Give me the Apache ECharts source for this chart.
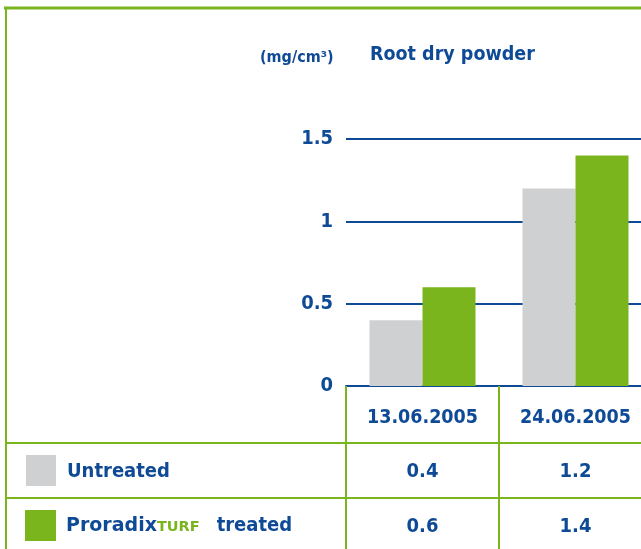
<!DOCTYPE html>
<html>
<head>
<meta charset="utf-8">
<script src="https://cdn.jsdelivr.net/npm/echarts@6/dist/echarts.min.js"></script>
<style>
html,body{margin:0;padding:0;background:#fff;overflow:hidden;}
#c{width:664px;height:549px;}
</style>
</head>
<body>
<div id="c"></div>
<script>
const categories = ['13.06.2005', '24.06.2005'];
const untreated = [0.4, 1.2];
const treated = [0.6, 1.4];
const yTickLabels = ['0', '0.5', '1', '1.5'];
const seriesNames = ['Untreated', 'Proradix TURF treated'];
const titleText = 'Root dry powder';
const unitText = '(mg/cm³)';

const BLUE = '#0f4a96';
const GREEN = '#7ab51d';
const GRAY = '#cfd0d2';
const FONT = '"Liberation Sans Narrow", "DejaVu Sans Condensed", "Roboto Condensed", sans-serif';

const chart = echarts.init(document.getElementById('c'), null, {renderer: 'canvas', width: 664, height: 549});

const option = {
  animation: false,
  backgroundColor: '#fff',
  title: [
    {text: unitText, left: 260, top: 50, padding: 0, textStyle: {fontFamily: FONT, fontWeight: 'bold', fontSize: 16, color: BLUE}},
    {text: titleText, left: 370, top: 45, padding: 0, textStyle: {fontFamily: FONT, fontWeight: 'bold', fontSize: 19.5, color: BLUE}}
  ],
  grid: {left: 346, top: 139, bottom: 163, width: 306, containLabel: false},
  xAxis: {
    type: 'category',
    data: categories,
    axisLine: {show: true, lineStyle: {color: BLUE, width: 2}},
    axisTick: {show: true, alignWithLabel: false, length: 170, lineStyle: {color: GREEN, width: 2}},
    axisLabel: {margin: 22, fontFamily: FONT, fontWeight: 'bold', fontSize: 19.5, color: BLUE, interval: 0}
  },
  yAxis: {
    type: 'value',
    min: 0, max: 1.5, interval: 0.5,
    axisLine: {show: false},
    axisTick: {show: false},
    splitLine: {show: true, lineStyle: {color: BLUE, width: 2}},
    axisLabel: {
      margin: 13, fontFamily: FONT, fontWeight: 'bold', fontSize: 20, color: BLUE,
      verticalAlign: 'middle', padding: [0, 0, 9, 0],
      formatter: function (v) { const i = Math.round(v / 0.5); return yTickLabels[i]; }
    }
  },
  series: [
    {name: seriesNames[0], type: 'bar', data: untreated, barWidth: 53, barGap: '0%', itemStyle: {color: GRAY}, z: 3},
    {name: seriesNames[1], type: 'bar', data: treated, barWidth: 53, barGap: '0%', itemStyle: {color: GREEN}, z: 3}
  ]
};
chart.setOption(option);

const cx = categories.map((c) => chart.convertToPixel({xAxisIndex: 0}, c));
const row1 = 472, row2 = 527;
const W = 664;
const graphics = [
  {type: 'line', shape: {x1: 4, y1: 8, x2: W, y2: 8}, style: {stroke: GREEN, lineWidth: 3}},
  {type: 'line', shape: {x1: 6, y1: 7, x2: 6, y2: 549}, style: {stroke: GREEN, lineWidth: 2}},
  {type: 'line', shape: {x1: 6, y1: 443, x2: W, y2: 443}, style: {stroke: GREEN, lineWidth: 2}},
  {type: 'line', shape: {x1: 6, y1: 498, x2: W, y2: 498}, style: {stroke: GREEN, lineWidth: 2}},
  {type: 'rect', shape: {x: 26, y: 455, width: 30, height: 31}, style: {fill: GRAY}},
  {type: 'rect', shape: {x: 25, y: 510, width: 31, height: 31}, style: {fill: GREEN}},
  {type: 'text', x: 67, y: row1, style: {text: seriesNames[0], font: 'bold 20px ' + FONT, fill: BLUE, verticalAlign: 'middle', align: 'left'}},
  {type: 'text', x: 66, y: row2 - 1, style: {
    text: '{p|Proradix}{t|TURF}{r|treated}',
    verticalAlign: 'middle', align: 'left',
    rich: {
      p: {fontFamily: '"DejaVu Sans", sans-serif', fontWeight: 'bold', fontSize: 19, fill: BLUE, color: BLUE},
      t: {fontFamily: '"DejaVu Sans", sans-serif', fontWeight: 'bold', fontSize: 14.5, fill: GREEN, color: GREEN, padding: [3, 0, 0, 0]},
      r: {fontFamily: FONT, fontWeight: 'bold', fontSize: 20, fill: BLUE, color: BLUE, padding: [0, 0, 0, 17]}
    }
  }}
];
cx.forEach((x, i) => {
  graphics.push({type: 'text', x: x, y: row1, style: {text: String(untreated[i]), font: 'bold 20px ' + FONT, fill: BLUE, align: 'center', verticalAlign: 'middle'}});
  graphics.push({type: 'text', x: x, y: row2, style: {text: String(treated[i]), font: 'bold 20px ' + FONT, fill: BLUE, align: 'center', verticalAlign: 'middle'}});
});
chart.setOption({graphic: graphics});
</script>
</body>
</html>
